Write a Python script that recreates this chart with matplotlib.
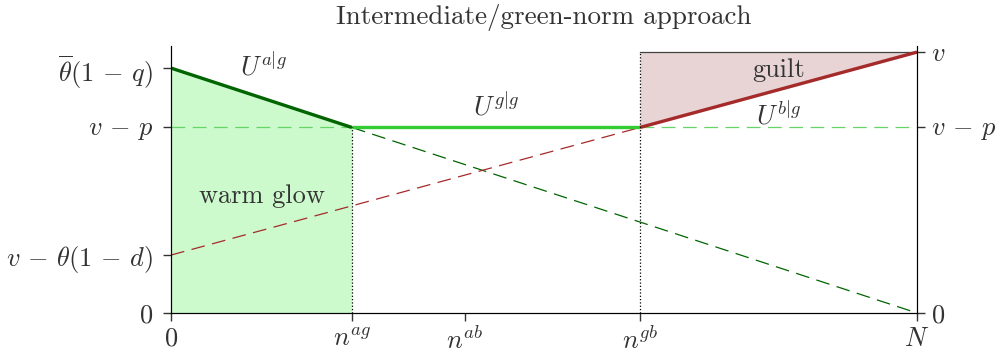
import matplotlib
matplotlib.use('Agg')
import matplotlib.pyplot as plt
import numpy as np

plt.rcParams['mathtext.fontset'] = 'cm'
plt.rcParams['font.family'] = 'serif'
plt.rcParams['font.serif'] = ['cmr10', 'DejaVu Serif']
plt.rcParams['axes.formatter.use_mathtext'] = True

# positions on the x axis (N = 1)
N = 1.0
n_ag = 0.2426
n_ab = 0.394
n_gb = 0.6287

# utility levels (v = 1)
v = 1.0
v_p = 0.7126
theta_q = 0.9387
v_theta_d = 0.222

x_ticks = [0, n_ag, n_ab, n_gb, N]
x_labels = ['$0$', '$n^{ag}$', '$n^{ab}$', '$n^{gb}$', '$N$']
yl_ticks = [0, v_theta_d, v_p, theta_q]
yl_labels = ['$0$', r'$v\,-\,\theta(1\,-\,d)$', r'$v\,-\,p$', r'$\overline{\theta}(1\,-\,q)$']
yr_ticks = [0, v_p, v]
yr_labels = ['$0$', r'$v\,-\,p$', '$v$']

dark_green = '#006400'
light_green = '#33cc33'
light_green_dash = '#66d466'
red = '#a52a2a'
fs = 19

fig = plt.figure(figsize=(9.97, 3.6), dpi=100)
ax = fig.add_axes([0.1715, 0.1306, 0.7483, 0.7414])

# U^{a|g}: line from theta_q at 0 down to 0 at N
ua = lambda x: theta_q + (0 - theta_q) * x / N
# U^{b|g}: line from v_theta_d at 0 up to v at N
ub = lambda x: v_theta_d + (v - v_theta_d) * x / N

# fills
xa = np.array([0, n_ag])
ax.fill_between(xa, 0, ua(xa), color='#ccfacc', lw=0)
xb = np.array([n_gb, N])
ax.fill_between(xb, ub(xb), v, color='#e8d3d5', lw=0)
ax.plot([n_gb, N], [v, v], color='#444444', lw=0.9)

dash = dict(lw=0.9, dashes=(11, 6))
# dashed continuations
ax.plot([n_ag, N], [ua(n_ag), ua(N)], color=dark_green, **dash)
ax.plot([0, n_gb], [ub(0), ub(n_gb)], color=red, **dash)
ax.plot([0, n_ag], [v_p, v_p], color=light_green_dash, **dash)
ax.plot([n_gb, N], [v_p, v_p], color=light_green_dash, **dash)

# solid pieces
ax.plot([0, n_ag], [ua(0), ua(n_ag)], color=dark_green, lw=2.4, solid_capstyle='butt')
ax.plot([n_ag, n_gb], [v_p, v_p], color=light_green, lw=2.4, solid_capstyle='butt')
ax.plot([n_gb, N], [ub(n_gb), ub(N)], color=red, lw=2.4, solid_capstyle='butt')

# dotted verticals
ax.plot([n_ag, n_ag], [0, v_p], color='black', lw=0.9, ls=':')
ax.plot([n_gb, n_gb], [0, v], color='black', lw=0.9, ls=':')

# text labels
tc = '#333333'
ax.text(0.124, 0.945, r'$U^{a|g}$', fontsize=fs, ha='center', va='center', color=tc)
ax.text(0.435, 0.79, r'$U^{g|g}$', fontsize=fs, ha='center', va='center', color=tc)
ax.text(0.814, 0.759, r'$U^{b|g}$', fontsize=fs, ha='center', va='center', color=tc)
ax.text(0.814, 0.93, 'guilt', fontsize=fs, ha='center', va='center', color=tc)
ax.text(0.122, 0.449, 'warm glow', fontsize=fs, ha='center', va='center', color=tc)

ax.set_xlim(0, N)
ax.set_ylim(0, 1.023)
ax.spines['top'].set_visible(False)
ax.set_xticks(x_ticks)
ax.set_xticklabels(x_labels)
ax.set_yticks(yl_ticks)
ax.set_yticklabels(yl_labels)
ax.tick_params(labelsize=fs, length=6, width=1, colors='#333333', labelcolor='#333333', pad=4)
ax.tick_params(axis='y', pad=7)

ax2 = ax.twinx()
ax2.set_ylim(ax.get_ylim())
ax2.set_yticks(yr_ticks)
ax2.set_yticklabels(yr_labels)
ax2.spines['top'].set_visible(False)
ax2.tick_params(labelsize=fs, length=6, width=1, colors='#333333', labelcolor='#333333', pad=4)

ax.set_title('Intermediate/green-norm approach', fontsize=19.5, color='#333333', pad=16)

fig.savefig('out.png', dpi=100)
